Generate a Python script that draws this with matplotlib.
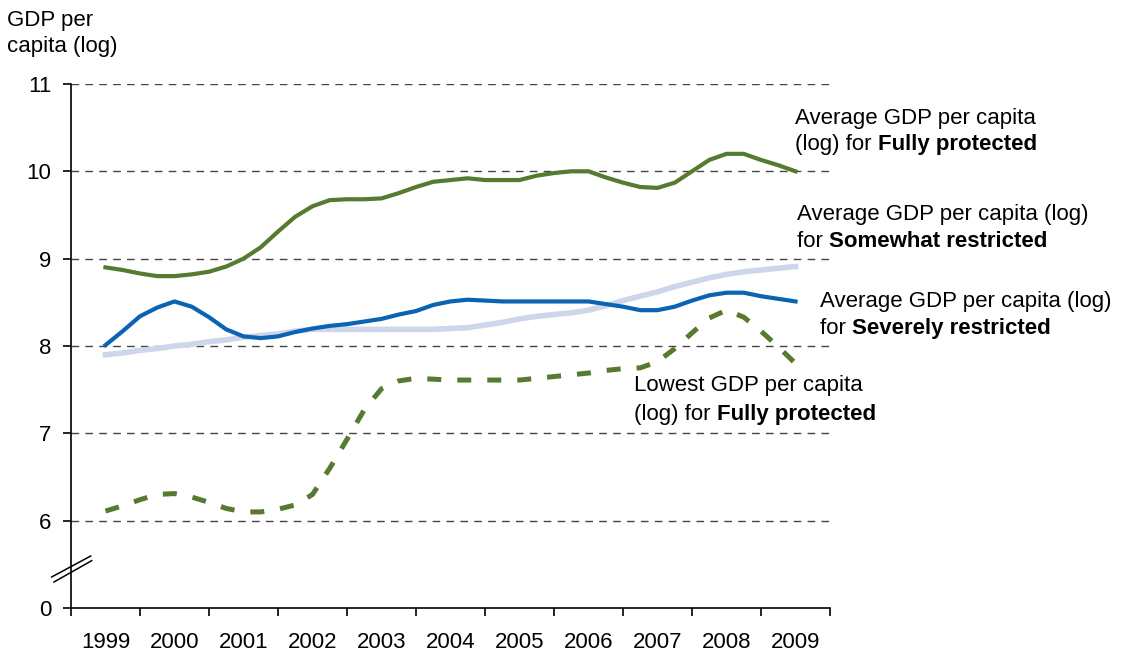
import numpy as np
import matplotlib
matplotlib.use("Agg")
import matplotlib.pyplot as plt

plt.rcParams['font.family'] = ['Liberation Sans', 'DejaVu Sans']

years = [str(y) for y in range(1999, 2010)]
# quarterly readings, 1999 to 2009
quarters = 1999 + np.arange(41) / 4

full_avg = [8.90, 8.87, 8.83, 8.80, 8.80, 8.82, 8.85, 8.91, 9.00, 9.13,
            9.31, 9.48, 9.60, 9.67, 9.68, 9.68, 9.69, 9.75, 9.82, 9.88,
            9.90, 9.92, 9.90, 9.90, 9.90, 9.95, 9.98, 10.00, 10.00, 9.93,
            9.87, 9.82, 9.81, 9.87, 10.00, 10.13, 10.20, 10.20, 10.13, 10.07,
            10.00]
severe_avg = [8.01, 8.17, 8.34, 8.44, 8.51, 8.45, 8.33, 8.19, 8.11, 8.09,
              8.11, 8.16, 8.20, 8.23, 8.25, 8.28, 8.31, 8.36, 8.40, 8.47,
              8.51, 8.53, 8.52, 8.51, 8.51, 8.51, 8.51, 8.51, 8.51, 8.48,
              8.45, 8.41, 8.41, 8.45, 8.52, 8.58, 8.61, 8.61, 8.57, 8.54,
              8.51]
somewhat_avg = [7.90, 7.92, 7.95, 7.97, 8.00, 8.02, 8.05, 8.07, 8.10, 8.12,
                8.14, 8.17, 8.19, 8.19, 8.19, 8.19, 8.19, 8.19, 8.19, 8.19,
                8.20, 8.21, 8.24, 8.27, 8.31, 8.34, 8.36, 8.38, 8.41, 8.46,
                8.52, 8.57, 8.62, 8.68, 8.73, 8.78, 8.82, 8.85, 8.87, 8.89,
                8.91]
full_lowest = [6.11, 6.17, 6.24, 6.30, 6.31, 6.27, 6.21, 6.14, 6.10, 6.10,
               6.13, 6.18, 6.30, 6.60, 6.93, 7.27, 7.51, 7.60, 7.63, 7.62,
               7.61, 7.61, 7.61, 7.61, 7.61, 7.63, 7.65, 7.67, 7.69, 7.72,
               7.74, 7.75, 7.82, 7.97, 8.15, 8.32, 8.41, 8.33, 8.17, 7.99,
               7.80]

ytick_pos = [5, 6, 7, 8, 9, 10, 11]
ytick_lab = ['0', '6', '7', '8', '9', '10', '11']

green = '#567a2f'
blue = '#0b63b4'
light = '#cdd6ea'
fs = 16

fig = plt.figure(figsize=(11.23, 6.52), dpi=100)
ax = fig.add_axes([0.0632, 0.0675, 0.6759, 0.8037])

for y in range(6, 12):
    ax.axhline(y, color='#444444', lw=1.0, dashes=(5.5, 4.5), zorder=1)

ax.plot(quarters, somewhat_avg, color=light, lw=4.0, zorder=2)
ax.plot(quarters, severe_avg, color=blue, lw=3.0, zorder=3)
ax.plot(quarters, full_avg, color=green, lw=3.0, zorder=3)
ax.plot(quarters, full_lowest, color=green, lw=3.6, dashes=(2.8, 3.2),
        dash_capstyle='butt', zorder=3)

ax.set_xlim(1998.5, 2009.5)
ax.set_ylim(5, 11)
ax.set_yticks(ytick_pos)
ax.set_yticklabels(ytick_lab)
ax.set_xticks(np.arange(1998.5, 2010, 1))
ax.set_xticklabels([])
ax.set_xticks(np.arange(1999, 2010), minor=True)
ax.set_xticklabels(years, minor=True)
ax.tick_params(axis='x', which='major', length=6, width=1.2, direction='out')
ax.tick_params(axis='x', which='minor', length=0, pad=17, labelsize=fs)
ax.tick_params(axis='y', length=6, width=1.2, pad=8, labelsize=fs)

for s in ['top', 'right']:
    ax.spines[s].set_visible(False)
for s in ['left', 'bottom']:
    ax.spines[s].set_linewidth(1.2)

# axis break marks
ax.plot([-0.0254, 0.026], [0.0592, 0.0992], color='black', lw=1.1,
        transform=ax.transAxes, clip_on=False)
ax.plot([-0.0224, 0.0273], [0.0496, 0.0903], color='black', lw=1.1,
        transform=ax.transAxes, clip_on=False)

fig.text(0.006, 0.985, 'GDP per\ncapita (log)', fontsize=fs, va='top',
         ha='left', linespacing=1.3)


def label(x, y1, y2, line1, pre, bold):
    ax.text(x, y1, line1, transform=ax.transAxes, fontsize=fs,
            va='center', ha='left', clip_on=False)
    t = ax.text(x, y2, pre, transform=ax.transAxes, fontsize=fs,
                va='center', ha='left', clip_on=False)
    ax.annotate(bold, xy=(1, 0), xycoords=t, va='bottom', ha='left',
                fontsize=fs, fontweight='bold', annotation_clip=False)


label(0.954, 0.935, 0.884, 'Average GDP per capita', '(log) for ',
      'Fully protected')
label(0.957, 0.750, 0.700, 'Average GDP per capita (log)', 'for ',
      'Somewhat restricted')
label(0.987, 0.584, 0.534, 'Average GDP per capita (log)', 'for ',
      'Severely restricted')
label(0.742, 0.424, 0.370, 'Lowest GDP per capita', '(log) for ',
      'Fully protected')

fig.savefig('out.png', dpi=100)
